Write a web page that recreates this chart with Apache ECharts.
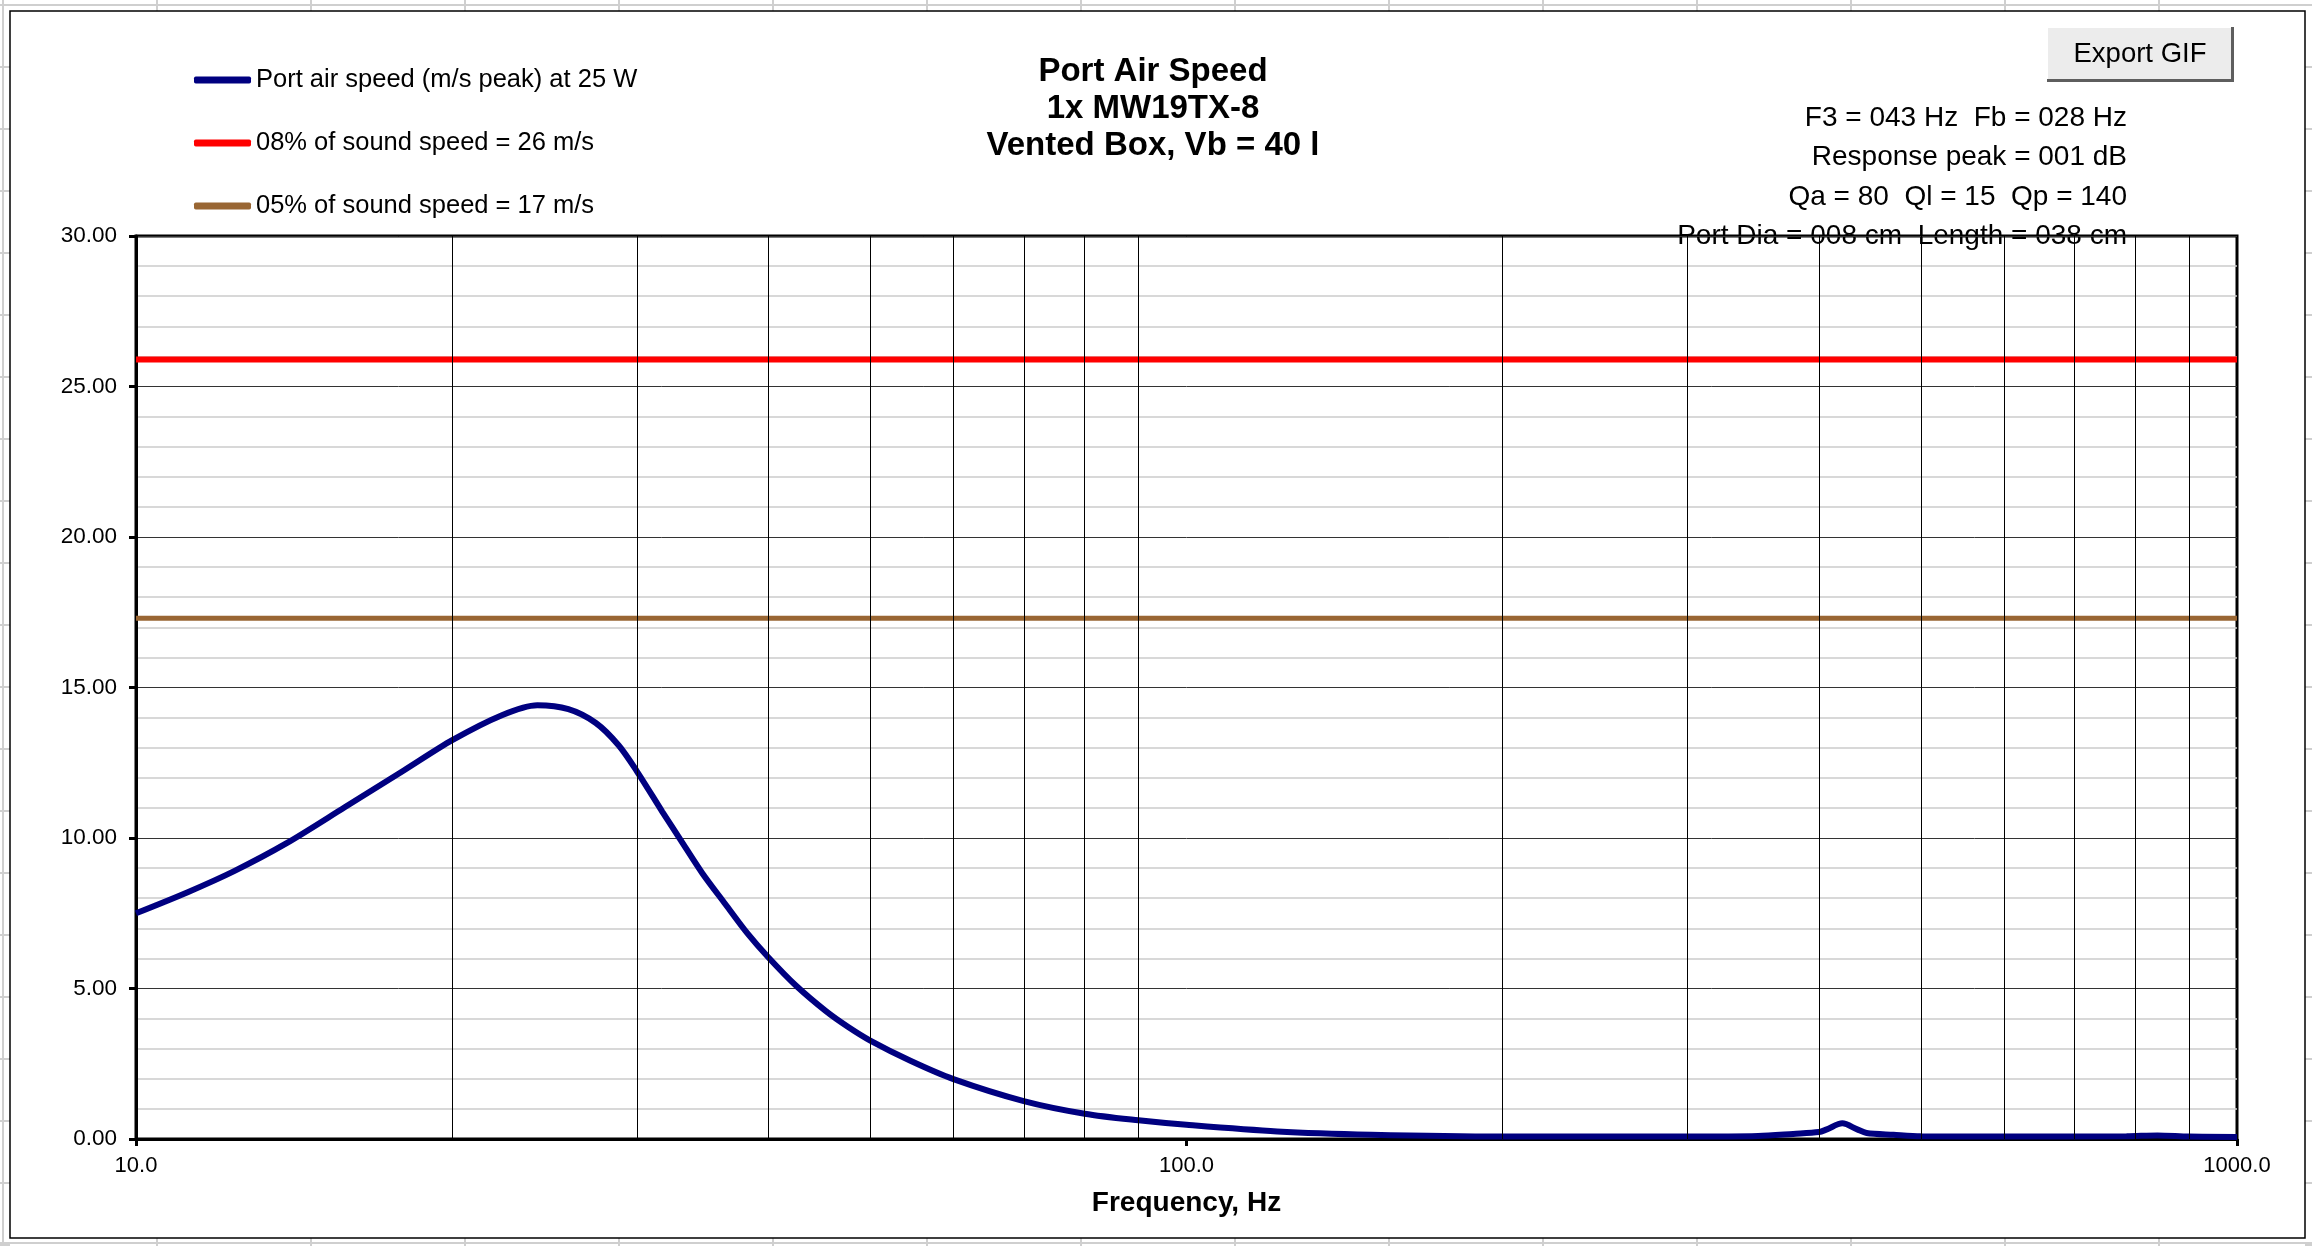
<!DOCTYPE html>
<html>
<head>
<meta charset="utf-8">
<title>Port Air Speed</title>
<script src="https://cdn.jsdelivr.net/npm/echarts@6/dist/echarts.min.js"></script>
<style>
  html, body { margin: 0; padding: 0; background: #fff; }
  #chart { width: 2312px; height: 1246px; }
</style>
</head>
<body>
<div id="chart"></div>
<script>
// port air speed curve (Hz, m/s)
const freqs = [10, 11.2, 12.4, 13.9, 15.8, 18, 20, 22.3, 24.1, 25.8, 27.4, 28.8, 30, 31.7, 33, 34.6, 36.4, 38.2, 40,
  42.5, 45.4, 47.6, 50, 54.6, 60, 70, 80, 90, 100, 122, 150, 200, 300, 350, 378, 400, 407, 421, 435, 444, 471, 500,
  600, 785, 840, 900, 1000];
const portSpeed = [7.5, 8.2, 8.9, 9.82, 11.02, 12.25, 13.25, 14.08, 14.41, 14.28, 13.82, 13.08, 12.2, 10.87, 9.93,
  8.83, 7.8, 6.83, 6.03, 5.09, 4.24, 3.73, 3.27, 2.6, 1.99, 1.26, 0.84, 0.62, 0.47, 0.25, 0.14, 0.08, 0.08, 0.1, 0.17,
  0.23, 0.32, 0.52, 0.32, 0.2, 0.14, 0.09, 0.08, 0.09, 0.12, 0.08, 0.07];

// reference levels
const speed08 = 25.9;
const speed05 = 17.3;
const xRange = [10, 1000];

// vertical grid lines (no line at the decades)
const gridFreqs = [20, 30, 40, 50, 60, 70, 80, 90, 200, 300, 400, 500, 600, 700, 800, 900];

const seriesNames = [
  'Port air speed (m/s peak) at 25 W',
  '08% of sound speed = 26 m/s',
  '05% of sound speed = 17 m/s'
];
const titleLines = ['Port Air Speed', '1x MW19TX-8', 'Vented Box, Vb = 40 l'];
const infoLines = [
  'F3 = 043 Hz  Fb = 028 Hz',
  'Response peak = 001 dB',
  'Qa = 80  Ql = 15  Qp = 140',
  'Port Dia = 008 cm  Length = 038 cm'
];

const FONT = '"Liberation Sans", Arial, sans-serif';

const curve = freqs.map((f, i) => [f, portSpeed[i]]);
const flat = v => xRange.map(f => [f, v]);

// spreadsheet cell lines around the chart frame
const sheet = [];
const cellLine = (x1, y1, x2, y2) => ({
  type: 'line', silent: true, shape: { x1, y1, x2, y2 }, style: { stroke: '#cfcfcf', lineWidth: 2 }
});
for (let x = 3; x < 2312; x += 154) {
  sheet.push(cellLine(x, 0, x, 11));
  sheet.push(cellLine(x, 1238, x, 1246));
}
for (let y = 5; y < 1246; y += 62) {
  sheet.push(cellLine(0, y, 10, y));
  sheet.push(cellLine(2305, y, 2312, y));
}
sheet.push(cellLine(0, 5, 2312, 5));
sheet.push(cellLine(0, 1243, 2312, 1243));
sheet.push(cellLine(3, 0, 3, 1246));

const chart = echarts.init(document.getElementById('chart'));

chart.setOption({
  animation: false,
  backgroundColor: '#fff',
  title: {
    text: titleLines.join('\n'),
    left: 1148,
    top: 48,
    textAlign: 'center',
    textStyle: { fontFamily: FONT, fontSize: 33, fontWeight: 'bold', color: '#000', lineHeight: 37 }
  },
  legend: {
    data: seriesNames,
    orient: 'vertical',
    left: 189,
    top: 62,
    itemWidth: 57,
    itemHeight: 7,
    itemGap: 37,
    icon: 'roundRect',
    selectedMode: false,
    textStyle: { fontFamily: FONT, fontSize: 25.5, color: '#000' }
  },
  grid: {
    left: 136,
    right: 75,
    top: 236,
    bottom: 107,
    show: true,
    borderColor: '#000',
    borderWidth: 3,
    containLabel: false
  },
  xAxis: {
    type: 'log',
    logBase: 10,
    min: xRange[0],
    max: xRange[1],
    name: 'Frequency, Hz',
    nameLocation: 'middle',
    nameGap: 50,
    nameTextStyle: { fontFamily: FONT, fontSize: 28, fontWeight: 'bold', color: '#000' },
    axisLine: { onZero: false, lineStyle: { color: '#000', width: 3 } },
    axisTick: { show: true, length: 7, lineStyle: { color: '#000', width: 3 } },
    axisLabel: {
      margin: 16,
      fontFamily: FONT,
      fontSize: 22,
      color: '#000',
      formatter: v => v.toFixed(1)
    },
    splitLine: { show: false },
    minorTick: { show: false },
    minorSplitLine: { show: false }
  },
  yAxis: {
    type: 'value',
    min: 0,
    max: 30,
    interval: 5,
    axisLine: { show: true, lineStyle: { color: '#000', width: 3 } },
    axisTick: { show: true, length: 7, lineStyle: { color: '#000', width: 3 } },
    axisLabel: {
      margin: 19,
      fontFamily: FONT,
      fontSize: 22.5,
      color: '#000',
      formatter: v => v.toFixed(2)
    },
    splitLine: { show: true, lineStyle: { color: '#333', width: 1 } },
    minorTick: { show: false, splitNumber: 5 },
    minorSplitLine: { show: true, lineStyle: { color: '#cccccc', width: 1.5 } }
  },
  series: [
    {
      name: 'grid',
      type: 'line',
      data: [],
      silent: true,
      z: 1,
      markLine: {
        silent: true,
        symbol: ['none', 'none'],
        label: { show: false },
        lineStyle: { color: '#000', width: 1, type: 'solid' },
        emphasis: { disabled: true },
        data: gridFreqs.map(f => ({ xAxis: f }))
      }
    },
    {
      name: seriesNames[1],
      type: 'line',
      data: flat(speed08),
      symbol: 'none',
      color: '#ff0000',
      lineStyle: { color: '#ff0000', width: 6 },
      silent: true
    },
    {
      name: seriesNames[2],
      type: 'line',
      data: flat(speed05),
      symbol: 'none',
      color: '#996633',
      lineStyle: { color: '#996633', width: 5 },
      silent: true
    },
    {
      name: seriesNames[0],
      type: 'line',
      data: curve,
      symbol: 'none',
      smooth: 0.3,
      color: '#000080',
      lineStyle: { color: '#000080', width: 6 },
      silent: true,
      z: 3
    }
  ],
  graphic: [
    ...sheet,
    {
      type: 'rect',
      silent: true,
      shape: { x: 10, y: 11, width: 2295, height: 1227 },
      style: { fill: null, stroke: '#000', lineWidth: 1.5 }
    },
    // Export GIF button
    {
      type: 'group',
      left: 2047,
      top: 27,
      children: [
        { type: 'rect', shape: { x: 0, y: 0, width: 187, height: 55 }, style: { fill: '#5e5e5e' } },
        { type: 'rect', shape: { x: 0, y: 0, width: 184, height: 52 }, style: { fill: '#ffffff' } },
        { type: 'rect', shape: { x: 1, y: 1, width: 183, height: 51 }, style: { fill: '#ececec' } },
        {
          type: 'text',
          x: 93,
          y: 27,
          style: { text: 'Export GIF', fontFamily: FONT, fontSize: 27.5, fill: '#000', align: 'center', verticalAlign: 'middle' }
        }
      ]
    },
    ...infoLines.map((t, i) => ({
      type: 'text',
      x: 2127,
      y: 118 + i * 39.5,
      style: { text: t, fontFamily: FONT, fontSize: 28, fill: '#000', align: 'right', verticalAlign: 'middle' }
    }))
  ]
});
</script>
</body>
</html>
